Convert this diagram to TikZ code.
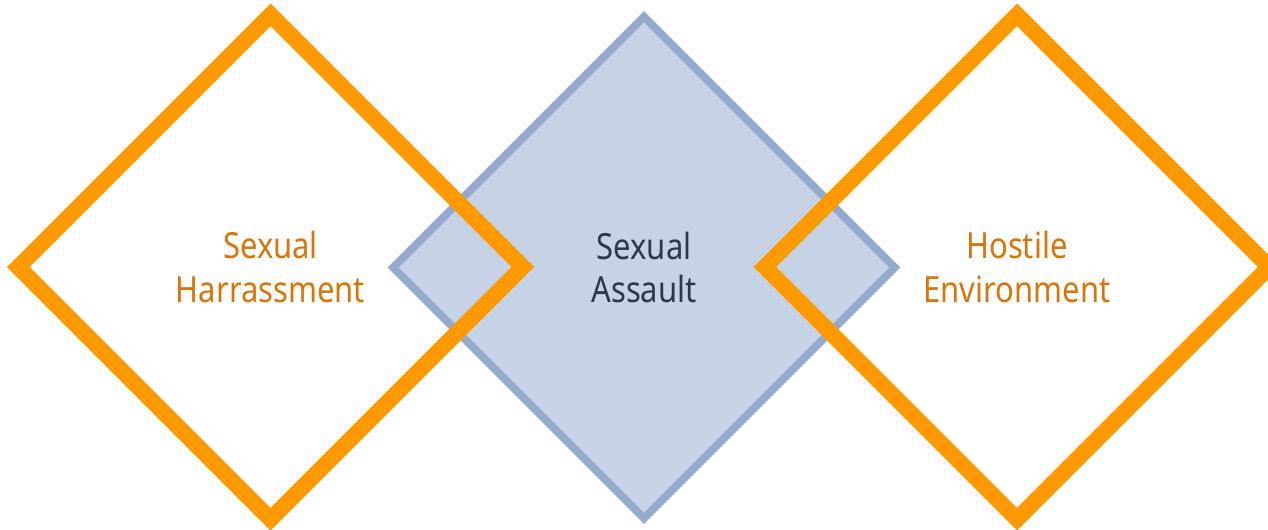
\documentclass[tikz,border=0pt]{standalone}
\usepackage{fontspec}
\setmainfont{Noto Sans}[FakeStretch=0.86]
\usepackage{tikz}
\usetikzlibrary{shapes.geometric, positioning}
\definecolor{orange1}{RGB}{255,153,0}
\definecolor{orangetext}{RGB}{217,116,10}
\definecolor{blue1}{RGB}{148,169,203}
\definecolor{bluefill}{RGB}{198,211,230}
\definecolor{darktext}{RGB}{43,55,74}

\begin{document}
\begin{tikzpicture}[
    issue/.style={shape=diamond, aspect=1, inner sep=0pt, minimum width=10.22cm, minimum height=10.22cm, align=center, font=\fontsize{20.5}{25}\selectfont},
    sidebox/.style={issue, draw=orange1, line width=0.32cm, text=orangetext},
    corebox/.style={issue, draw=blue1, fill=bluefill, line width=0.156cm, text=darktext, minimum width=10.1cm, minimum height=10.1cm}
]
        \useasboundingbox (0,0) rectangle (25.36,10.58);

        \node[corebox, name=assault] at(12.88,5.23) {Sexual\\Assault};
        \node[sidebox, name=harass] at(5.41,5.24) {Sexual\\Harrassment};
        \node[sidebox, name=hostile] at(20.34,5.24) {Hostile\\Environment};
    \end{tikzpicture}
\end{document}
